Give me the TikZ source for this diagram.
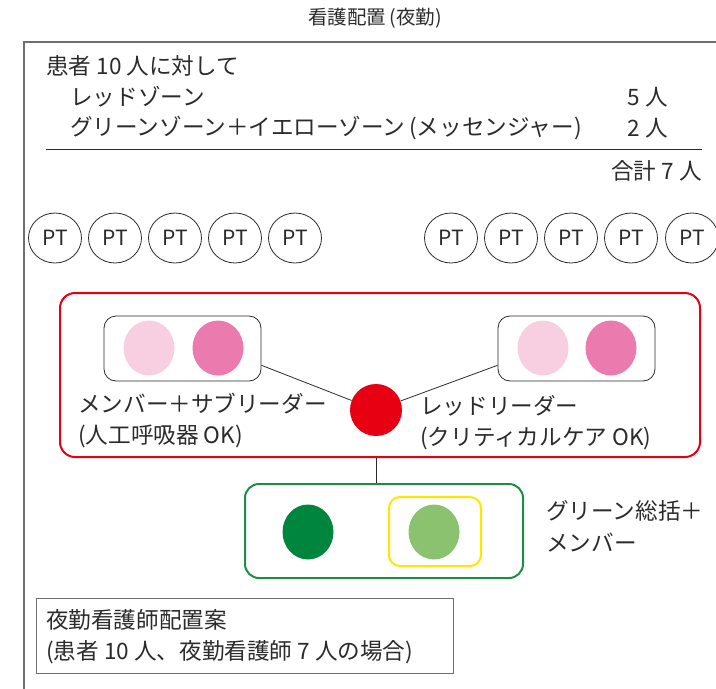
\documentclass[tikz,border=0pt]{standalone}
\usepackage{fontspec}
\setmainfont{Noto Sans CJK JP}
\usetikzlibrary{shapes.geometric}
\definecolor{redz}{HTML}{E60012}
\definecolor{pinkl}{HTML}{F7CFE1}
\definecolor{pinkd}{HTML}{EB7BAE}
\definecolor{greend}{HTML}{00853F}
\definecolor{greenl}{HTML}{8BC26F}
\definecolor{greenbox}{HTML}{1E8C46}
\definecolor{yellowz}{HTML}{FFE600}
\definecolor{txtc}{HTML}{2B2B2B}
\definecolor{framec}{HTML}{6E6E6E}
\begin{document}
\begin{tikzpicture}[x=1pt,y=-1pt,
  txt/.style={font=\fontsize{22.6}{26}\selectfont, inner sep=0pt, text=txtc},
  ptnode/.style={draw=txtc, line width=0.8pt, ellipse, minimum width=53pt, minimum height=50pt, inner sep=0pt, font=\fontsize{21}{24}\selectfont, text=txtc},
  dotnode/.style={ellipse, minimum width=51pt, minimum height=55pt, inner sep=0pt},
  pairbox/.style={draw=txtc, line width=0.8pt, rounded corners=12pt, minimum width=157pt, minimum height=65pt, inner sep=0pt},
  link/.style={draw=txtc, line width=0.8pt}]
\useasboundingbox (0,0) rectangle (716,689);
% outer frame
\draw[framec, line width=1.5pt] (24,700) -- (24,42) -- (730,42);
\node[txt, font=\fontsize{19.5}{22}\selectfont] (title) at (375,18) {看護配置\,(夜勤)};
% header
\node[txt, anchor=west] (h0) at (46,66) {患者 10 人に対して};
\node[txt, anchor=west] (h1) at (70,97) {レッドゾーン};
\node[txt, anchor=east] (n1) at (668,97) {5 人};
\node[txt, anchor=west] (h2) at (70,128) {グリーンゾーン＋イエローゾーン\,(メッセンジャー)};
\node[txt, anchor=east] (n2) at (668,128) {2 人};
\coordinate (ruleL) at (46,149);
\coordinate (ruleR) at (702,149);
\draw[txtc, line width=0.8pt] (ruleL) -- (ruleR);
\node[txt, anchor=east] (tot) at (702,171) {合計 7 人};
% patients
\foreach \i/\x in {1/55,2/115,3/175,4/235,5/295,6/451,7/511,8/571,9/631,10/692}
  \node[ptnode] (pt\i) at (\x,238) {PT};
% red zone
\node[draw=redz, line width=2pt, rounded corners=15pt, minimum width=640pt, minimum height=164pt, inner sep=0pt] (redbox) at (380,375) {};
\node[pairbox] (lbox) at (182.5,348.5) {};
\node[pairbox] (rbox) at (576.5,348.5) {};
\node[dotnode, fill=pinkl] (l1) at (149,348) {};
\node[dotnode, fill=pinkd] (l2) at (218,348) {};
\node[dotnode, fill=pinkl] (r1) at (543,348) {};
\node[dotnode, fill=pinkd] (r2) at (611,348) {};
\node[circle, fill=redz, minimum size=52pt, inner sep=0pt] (red) at (376,410) {};
\draw[link] (lbox.-12) -- (red);
\draw[link] (rbox.192) -- (red);
\node[txt, anchor=west] (lt1) at (78,404) {メンバー＋サブリーダー};
\node[txt, anchor=west] (lt2) at (78,436) {(人工呼吸器 OK)};
\node[txt, anchor=west] (rt1) at (420,406) {レッドリーダー};
\node[txt, anchor=west] (rt2) at (420,438) {(クリティカルケア OK)};
% green zone
\node[draw=greenbox, line width=2pt, rounded corners=14pt, minimum width=278pt, minimum height=94pt, inner sep=0pt] (gbox) at (384,531) {};
\draw[link] (red.south |- redbox.south) -- (red.south |- gbox.north);
\node[draw=yellowz, line width=2pt, rounded corners=11pt, minimum width=92pt, minimum height=69pt, inner sep=0pt] (ybox) at (435,531.5) {};
\node[dotnode, fill=greend] (g1) at (308,532) {};
\node[dotnode, fill=greenl] (g2) at (434,532) {};
\node[txt, anchor=west] (gt1) at (546,511) {グリーン総括＋};
\node[txt, anchor=west] (gt2) at (546,543) {メンバー};
% caption box
\node[draw=framec, line width=1pt, minimum width=417pt, minimum height=75pt, inner sep=0pt] (cap) at (244.5,635.5) {};
\node[txt, anchor=west] (c1) at (46,620) {夜勤看護師配置案};
\node[txt, anchor=west] (c2) at (46,652) {(患者 10 人、夜勤看護師 7 人の場合)};
\end{tikzpicture}
\end{document}
